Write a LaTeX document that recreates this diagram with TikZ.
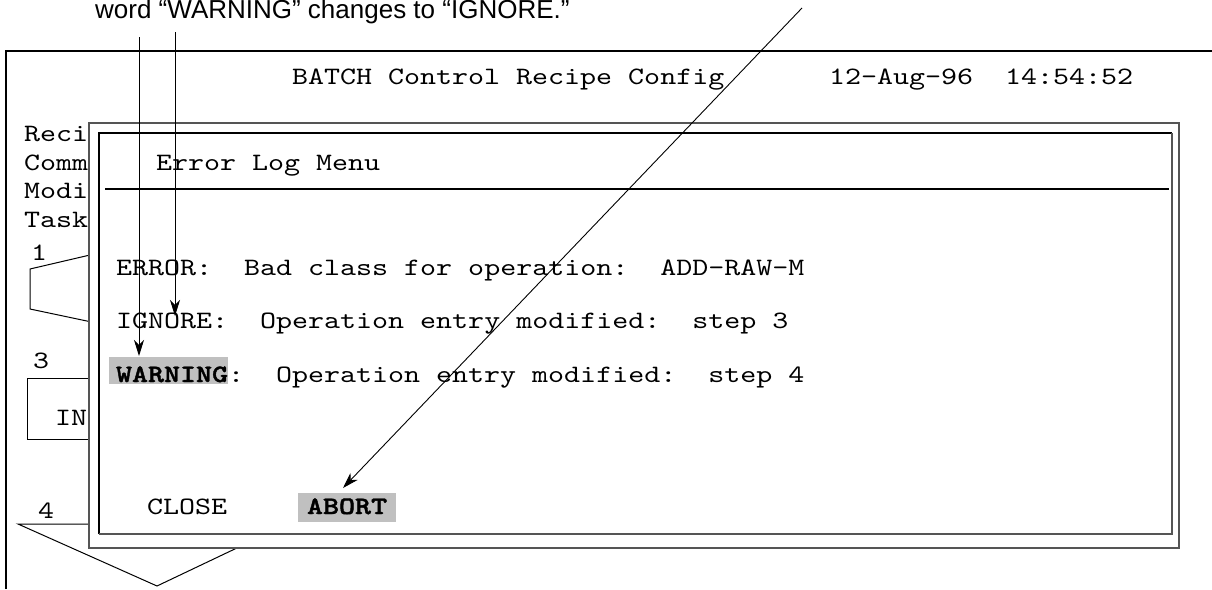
\documentclass[tikz,border=0pt]{standalone}
\usepackage{fontspec}
\setmainfont{Liberation Sans}
\setmonofont{lmmono10-regular.otf}[FakeStretch=1.22,BoldFont=lmmonolt10-bold.otf,BoldFeatures={FakeBold=1.6}]
\usetikzlibrary{arrows.meta}
\definecolor{hilite}{HTML}{C0C0C0}
\definecolor{framegray}{HTML}{555555}
\begin{document}
\begin{tikzpicture}[x=1pt,y=-1pt,line join=miter,
  scr/.style={font=\fontsize{25}{30}\selectfont\ttfamily,anchor=base west,inner sep=0pt,outer sep=0pt},
  scrbold/.style={font=\fontsize{25}{30}\selectfont\ttfamily\bfseries,anchor=base west,inner sep=0pt,outer sep=0pt},
  caption/.style={font=\fontsize{26}{30}\selectfont,anchor=base west,inner sep=0pt},
  outline/.style={draw=black,line width=1pt},
  hlbox/.style={fill=hilite,draw=none,inner sep=0pt,anchor=north west},
  ptr/.style={line width=0.9pt,-{Stealth[length=16pt,width=10pt,inset=5pt]}}]
\useasboundingbox (0,0) rectangle (1212,589);

% caption above the screen
\node[caption] (cap) at (95,18) {word “WARNING” changes to “IGNORE.”};

% screen border
\draw[line width=2pt] (6,589) -- (6,51) -- (1212,51);

% background screen text
\node[scr] (hdr)  at (292,84) {BATCH Control Recipe Config};
\node[scr] (time) at (829,84) {12-Aug-96\ \ 14:54:52};
\node[scr] (l1) at (24,141) {Reci};
\node[scr] (l2) at (24,170) {Comm};
\node[scr] (l3) at (24,198) {Modi};
\node[scr] (l4) at (24,227) {Task};
\node[scr] (n1) at (31,260) {1};
\node[scr] (n3) at (33,368) {3};
\node[scr] (in) at (55,425) {IN};
\node[scr] (n4) at (38,518) {4};

% step symbols behind the dialog
\draw[outline] (120,248) -- (30,269) -- (30,309) -- (120,328);
\draw[outline] (120,378) -- (27,378) -- (27,439) -- (120,439);
\draw[outline] (120,524) -- (18,524) -- (157,586) -- (260,537);

% dialog window
\draw[framegray,line width=2pt,fill=white] (89,123) rectangle (1179,548);
\draw[black,line width=1.3pt] (99,534) -- (99,133) -- (1172,133);
\draw[framegray,line width=2pt] (1172,133) -- (1172,534) -- (99,534);
\draw[black,line width=1.3pt] (105,189) -- (1169,189);

\node[scr] (title) at (156,170) {Error Log Menu};

\node[hlbox,minimum width=119pt,minimum height=27pt] (warnbox) at (109,357) {};
\node[hlbox,minimum width=98pt,minimum height=29pt] (abortbox) at (298,493) {};

\node[scr] (err)  at (116,275) {ERROR:\ \ Bad class for operation:\ \ ADD-RAW-M};
\node[scr] (ign)  at (116,328) {IGNORE:\ \ Operation entry modified:\ \ step 3};
\node[scrbold] (warn) at (116,382) {WARNING};
\node[scr] (warnrest) at (228,382) {:\ \ Operation entry modified:\ \ step 4};
\node[scr] (close) at (147,514) {CLOSE};
\node[scrbold] (abort) at (307,514) {ABORT};

% callout arrows
\coordinate (srcA) at (139,37);
\coordinate (srcB) at (175,32);
\coordinate (srcC) at (802,8);
\coordinate (tipA) at (139,356);
\coordinate (tipB) at (175,316);
\coordinate (tipC) at (343,488);
\draw[ptr] (srcA) -- (tipA);
\draw[ptr] (srcB) -- (tipB);
\draw[ptr] (srcC) -- (tipC);
\end{tikzpicture}
\end{document}
